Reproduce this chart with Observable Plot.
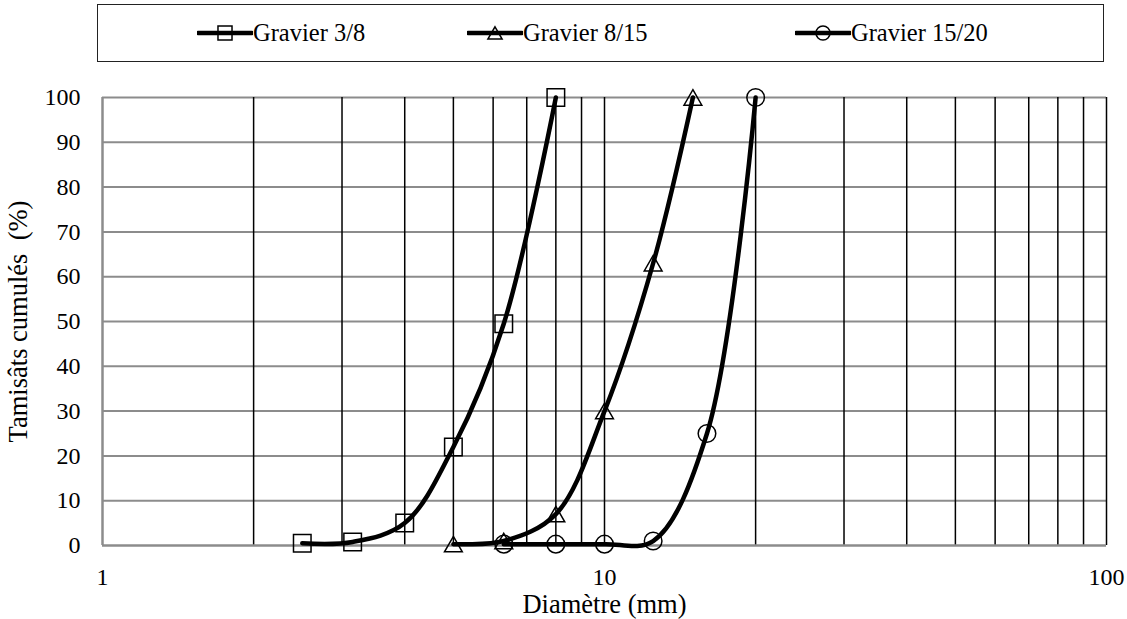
<!DOCTYPE html>
<html>
<head>
<meta charset="utf-8">
<script src="https://cdn.jsdelivr.net/npm/d3@7"></script>
<script src="https://cdn.jsdelivr.net/npm/@observablehq/plot@0.6"></script>
<style>
  body { margin: 0; background: #fff; font-family: 'Liberation Serif', serif; }
  #chart { position: relative; width: 1127px; height: 619px; font-family: 'Liberation Serif', serif; }
  .legend { position: relative; width: 1127px; height: 66px; }
  .legend .box { position: absolute; left: 97px; top: 4px; width: 1007px; height: 58px;
                 border: 1.5px solid #222; box-sizing: border-box; }
  .legend .item { position: absolute; top: 19px; height: 28px; display: flex; align-items: center;
                  font-size: 24.5px; line-height: 28px; color: #000; white-space: nowrap; }
  .legend .item svg { display: block; }
</style>
</head>
<body>
<div id="chart"></div>
<script>
// Sieve sizes (mm) and cumulative passing (%) for each gravel fraction
const seriesNames = ["Gravier 3/8", "Gravier 8/15", "Gravier 15/20"];
const seriesSymbols = ["square", "triangle", "circle"];

const sizes38 = [2.5, 3.15, 4, 5, 6.3, 8];
const pass38 = [0.5, 0.8, 5, 22, 49.5, 100];

const sizes815 = [5, 6.3, 8, 10, 12.5, 15];
const pass815 = [0.3, 1, 7, 30, 63, 100];

const sizes1520 = [6.3, 8, 10, 12.5, 16, 20];
const pass1520 = [0.3, 0.3, 0.3, 1, 25, 100];

// Axis ticks and grid positions
const xTicks = [1, 10, 100];
const xGrid = [2, 3, 4, 5, 6, 7, 8, 9, 10, 20, 30, 40, 50, 60, 70, 80, 90, 100];
const yTicks = [0, 10, 20, 30, 40, 50, 60, 70, 80, 90, 100];
const yGrid = [10, 20, 30, 40, 50, 60, 70, 80, 90, 100];

const xTitle = "Diamètre (mm)";
const yTitle = "Tamisâts cumulés\u00a0 (%)";

const serif = "Liberation Serif";

const sizes = [sizes38, sizes815, sizes1520];
const passes = [pass38, pass815, pass1520];
const series = seriesNames.map((name, i) => ({
  name,
  symbol: seriesSymbols[i],
  rows: sizes[i].map((d, j) => ({serie: name, d, p: passes[i][j]}))
}));

// Marker geometry per symbol (radius in Plot's area convention, vertical nudge for triangles)
const markerStyle = {
  square: {r: 9.9, dy: 0},
  triangle: {r: 6.6, dy: 2.5},
  circle: {r: 8.8, dy: 0}
};

const chart = document.getElementById("chart");

// Legend
const legend = document.createElement("div");
legend.className = "legend";
legend.innerHTML = '<div class="box"></div>';
const itemLeft = [197, 467, 795];
series.forEach((s, i) => {
  const item = document.createElement("div");
  item.className = "item";
  item.style.left = itemLeft[i] + "px";
  const sym = d3.symbol(d3["symbol" + s.symbol[0].toUpperCase() + s.symbol.slice(1)],
    Math.PI * Math.pow(markerStyle[s.symbol].r * 0.8, 2))();
  item.innerHTML =
    `<svg width="56" height="28" viewBox="0 0 56 28">
       <line x1="1" x2="55" y1="14" y2="14" stroke="#000" stroke-width="4.5" stroke-linecap="round"/>
       <path d="${sym}" transform="translate(28,${14 + markerStyle[s.symbol].dy * 0.8})" fill="none" stroke="#000" stroke-width="1.5"/>
     </svg><span>${s.name}</span>`;
  legend.appendChild(item);
});
chart.appendChild(legend);

const marks = [
  Plot.ruleY(yGrid, {stroke: "#8c8c8c", strokeWidth: 2}),
  Plot.ruleX(xGrid, {stroke: "#000", strokeWidth: 1.5}),
  Plot.ruleX([1], {stroke: "#8c8c8c", strokeWidth: 2.5}),
  Plot.ruleY([0], {stroke: "#8c8c8c", strokeWidth: 2.5}),
  // tick labels
  Plot.axisX({ticks: xTicks, tickSize: 0, tickPadding: 22, tickFormat: (d) => String(d),
              fontFamily: serif, fontSize: 24, label: null}),
  Plot.axisY({ticks: yTicks, tickSize: 0, tickPadding: 22, tickFormat: (d) => String(d),
              fontFamily: serif, fontSize: 24, label: null}),
  // axis titles
  Plot.axisX({ticks: [], tickSize: 0, fontFamily: serif, fontSize: 26.5,
              label: xTitle, labelAnchor: "center", labelArrow: "none", labelOffset: 67}),
  Plot.axisY({ticks: [], tickSize: 0, fontFamily: serif, fontSize: 26.5,
              label: yTitle, labelAnchor: "center", labelArrow: "none", labelOffset: 94})
];

series.forEach((s) => {
  marks.push(Plot.line(s.rows, {x: "d", y: "p", curve: "catmull-rom",
                                stroke: "#000", strokeWidth: 4.5, strokeLinejoin: "round", strokeLinecap: "round"}));
});
series.forEach((s) => {
  const m = markerStyle[s.symbol];
  marks.push(Plot.dot(s.rows, {x: "d", y: "p", symbol: s.symbol, r: m.r, dy: m.dy,
                               fill: "none", stroke: "#000", strokeWidth: 1.5}));
});

const plot = Plot.plot({
  width: 1127,
  height: 553,
  marginTop: 31,
  marginBottom: 74,
  marginLeft: 102,
  marginRight: 21,
  style: {fontFamily: serif, fontSize: "24px", color: "#000", background: "#fff"},
  x: {type: "log", domain: [1, 100]},
  y: {domain: [0, 100]},
  marks
});
chart.appendChild(plot);
</script>
</body>
</html>
